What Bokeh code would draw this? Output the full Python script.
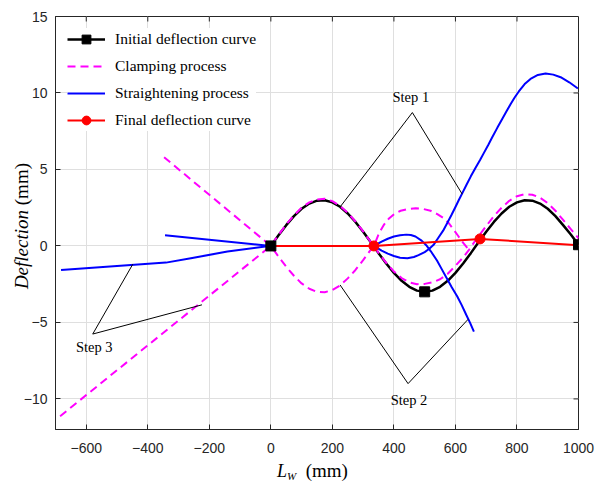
from bokeh.plotting import figure
from bokeh.models import Range1d, FixedTicker, Legend, LegendItem, Label, Div
from bokeh.layouts import row, column
from bokeh.embed import file_html
from bokeh.resources import INLINE

# ---------------- data ----------------
init_x = [0, 25, 50, 75, 100, 125, 150, 175, 200, 225, 250, 275, 300, 325, 350, 375, 400,
          425, 450, 475, 500, 525, 550, 575, 600, 625, 650, 675, 700, 725, 750, 775, 800,
          825, 850, 875, 900, 925, 950, 975, 1000]
init_y = [0, 0.70, 1.36, 1.95, 2.43, 2.77, 2.96, 2.99, 2.85, 2.56, 2.12, 1.57, 0.93, 0.24,
          -0.47, -1.15, -1.76, -2.28, -2.67, -2.92, -3.00, -2.92, -2.67, -2.28, -1.76, -1.15,
          -0.47, 0.24, 0.93, 1.57, 2.12, 2.56, 2.85, 2.99, 2.96, 2.77, 2.43, 1.95, 1.36, 0.75, 0.08]
init_mark_x = [0, 500, 1000]
init_mark_y = [0, -3.0, 0.08]

clamp_a_x = [-685, 0, 25, 50, 75, 100, 125, 150, 175, 200, 225, 250, 275, 300, 325, 335,
             350, 375, 400, 425, 450, 475, 500, 525, 550, 575, 600, 625, 644, 666, 700, 725,
             750, 775, 800, 825, 850, 875, 900, 925, 950, 975, 1000]
clamp_a_y = [-11.13, 0, 0.72, 1.40, 2.00, 2.50, 2.85, 3.04, 3.08, 2.93, 2.62, 2.16, 1.60, 0.95,
             0.25, 0, -0.45, -1.10, -1.67, -2.10, -2.38, -2.50, -2.48, -2.38, -2.18, -1.82,
             -1.30, -0.75, -0.26, 0.39, 1.30, 1.95, 2.50, 2.95, 3.25, 3.38, 3.35, 3.15, 2.80,
             2.30, 1.70, 1.10, 0.50]
clamp_b_x = [-347, 0, 25, 50, 75, 100, 125, 150, 175, 200, 225, 250, 275, 300, 325, 335,
             352, 368, 384, 402, 422, 446, 471, 495, 519, 541, 563, 580, 595, 609, 622, 644]
clamp_b_y = [5.8, 0, -0.70, -1.36, -1.95, -2.45, -2.80, -3.00, -3.03, -2.88, -2.58, -2.12,
             -1.57, -0.93, -0.24, 0, 0.85, 1.40, 1.80, 2.10, 2.30, 2.42, 2.46, 2.42, 2.30,
             2.08, 1.80, 1.45, 1.04, 0.65, 0.28, -0.26]

straight_a_x = [-682, -341, -260, -141, -5, 0, 335, 360, 380, 400, 420, 440, 455, 470, 490,
                505, 520, 540, 555, 570, 588, 606, 620, 635, 648, 660]
straight_a_y = [-1.57, -1.09, -0.80, -0.37, 0, 0, 0, 0.28, 0.47, 0.62, 0.70, 0.74, 0.72,
                0.62, 0.35, 0.05, -0.35, -0.95, -1.50, -2.05, -2.70, -3.30, -3.85, -4.50,
                -5.05, -5.60]
straight_b_x = [-344, 0, 335, 360, 380, 400, 420, 444, 465, 480, 500, 514, 530, 545, 560, 573,
                587, 600, 611, 622, 636, 650, 665, 680, 693, 707, 720, 736, 752, 766, 780,
                793, 806, 825, 844, 868, 893, 918, 942, 970, 998]
straight_b_y = [0.70, 0, 0, -0.30, -0.50, -0.66, -0.77, -0.80, -0.72, -0.60, -0.40, -0.20,
                0.10, 0.55, 1.00, 1.48, 2.02, 2.55, 3.00, 3.44, 4.00, 4.55, 5.10, 5.62, 6.10,
                6.62, 7.12, 7.72, 8.30, 8.80, 9.30, 9.72, 10.10, 10.58, 10.92, 11.18, 11.27,
                11.20, 11.03, 10.70, 10.29]

final_x = [0, 335, 680, 1000]
final_y = [0, 0, 0.46, 0.05]
final_mark_x = [335, 680]
final_mark_y = [0, 0.46]

step1_x = [227, 460, 622]
step1_y = [2.6, 8.72, 3.39]
step2_x = [225, 446, 641]
step2_y = [-2.55, -9.0, -4.8]
step3_x = [-449, -579, -224]
step3_y = [-1.2, -5.76, -3.85]
step_labels = ["Step 1", "Step 2", "Step 3"]
step_label_x = [455, 449, -574]
step_label_y = [9.75, -10.1, -6.6]

legend_labels = ["Initial deflection curve", "Clamping process",
                 "Straightening process", "Final deflection curve"]
x_ticks = [-600, -400, -200, 0, 200, 400, 600, 800, 1000]
y_ticks = [-10, -5, 0, 5, 10, 15]

# ---------------- layout ----------------
W, H = 608, 481
YDIV_W = 20            # strip on the left for the y title
XDIV_H = 20            # strip at the bottom for the x title
PW, PH = W - YDIV_W, H - XDIV_H
BL, BR, BT, BB = 34, 30, 16, 32
XMIN, XMAX, YMIN, YMAX = -700, 1000, -12, 15
FW, FH = PW - BL - BR, PH - BT - BB
TICK = 5

p = figure(width=PW, height=PH, output_backend="svg", toolbar_location=None,
           x_range=Range1d(XMIN, XMAX), y_range=Range1d(YMIN, YMAX),
           min_border_left=BL, min_border_right=BR, min_border_top=BT, min_border_bottom=BB)
p.background_fill_color = "white"
p.border_fill_color = "white"
p.border_fill_alpha = 0.0
p.outline_line_color = "#262626"
p.outline_line_width = 1

AX = "#262626"
for ax in (p.xaxis[0], p.yaxis[0]):
    ax.axis_line_color = AX
    ax.major_tick_line_color = AX
    ax.major_tick_in = TICK
    ax.major_tick_out = 0
    ax.minor_tick_line_color = None
    ax.major_label_text_font = "Liberation Sans"
    ax.major_label_text_font_size = "14px"
    ax.major_label_text_color = AX
p.xaxis[0].ticker = FixedTicker(ticks=x_ticks)
p.yaxis[0].ticker = FixedTicker(ticks=y_ticks)
p.xaxis[0].major_label_standoff = 13
p.yaxis[0].major_label_standoff = 8

p.xgrid.ticker = FixedTicker(ticks=x_ticks)
p.ygrid.ticker = FixedTicker(ticks=y_ticks)
for g in (p.xgrid[0], p.ygrid[0]):
    g.grid_line_color = "#dfdfdf"
    g.grid_line_width = 1

# ticks on the top and right edges of the box
ty = TICK / FH * (YMAX - YMIN)
tx = TICK / FW * (XMAX - XMIN)
top_t = [t for t in x_ticks if XMIN < t < XMAX]
right_t = [t for t in y_ticks if YMIN < t < YMAX]
p.segment(x0=top_t, y0=[YMAX] * len(top_t), x1=top_t, y1=[YMAX - ty] * len(top_t),
          line_color=AX, line_width=1)
p.segment(x0=[XMAX] * len(right_t), y0=right_t, x1=[XMAX - tx] * len(right_t), y1=right_t,
          line_color=AX, line_width=1)

# ---------------- curves ----------------
r_init = p.line(init_x, init_y, line_color="black", line_width=2.5)
r_clamp = p.line(clamp_a_x, clamp_a_y, line_color="#ff00ff", line_width=2, line_dash="8 5")
p.line(clamp_b_x, clamp_b_y, line_color="#ff00ff", line_width=2, line_dash="8 5")
r_str = p.line(straight_a_x, straight_a_y, line_color="#0000ff", line_width=2)
p.line(straight_b_x, straight_b_y, line_color="#0000ff", line_width=2)
r_fin = p.line(final_x, final_y, line_color="#ff0000", line_width=2)
r_fin_m = p.scatter(final_mark_x, final_mark_y, marker="circle", size=10,
                    fill_color="#ff0000", line_color="#ff0000")
r_init_m = p.scatter(init_mark_x, init_mark_y, marker="square", size=10,
                     fill_color="black", line_color="black")

for sx, sy in ((step1_x, step1_y), (step2_x, step2_y), (step3_x, step3_y)):
    p.line(sx, sy, line_color="black", line_width=1)

for t, tx_, ty_ in zip(step_labels, step_label_x, step_label_y):
    p.add_layout(Label(x=tx_, y=ty_, text=t, text_align="center", text_baseline="middle",
                       text_font="Liberation Serif", text_font_size="14.5px", text_color="black"))

# ---------------- legend ----------------
legend = Legend(items=[
    LegendItem(label=legend_labels[0], renderers=[r_init, r_init_m]),
    LegendItem(label=legend_labels[1], renderers=[r_clamp]),
    LegendItem(label=legend_labels[2], renderers=[r_str]),
    LegendItem(label=legend_labels[3], renderers=[r_fin, r_fin_m]),
], location="top_left")
legend.margin = 12
legend.padding = 9
legend.spacing = 5
legend.label_height = 22
legend.glyph_height = 22
legend.glyph_width = 38
legend.label_standoff = 10
legend.label_text_font = "Liberation Serif"
legend.label_text_font_size = "15.5px"
legend.label_text_color = "black"
legend.border_line_color = None
legend.background_fill_color = "white"
legend.background_fill_alpha = 1.0
p.add_layout(legend)

# ---------------- axis titles (mixed italic / upright) as HTML ----------------
SERIF = "'Liberation Serif', 'Times New Roman', serif"
Y_TITLE_CENTER = 226   # vertical centre of the y title, px from the top
ydiv = Div(width=YDIV_W, height=H, margin=0, styles={"overflow": "visible"},
           text=(
               f'<div style="width:{YDIV_W}px; height:{2 * Y_TITLE_CENTER}px; display:flex; '
               f'align-items:center; justify-content:center; overflow:visible;">'
               f'<div style="writing-mode:vertical-rl; transform:rotate(180deg); white-space:nowrap; '
               f'position:relative; left:12px; font-family:{SERIF}; color:black; line-height:19px;">'
               f'<span style="font-style:italic; font-size:19px;">Deflection</span>'
               f'<span style="font-size:19px;">&nbsp;(mm)</span></div></div>'))
xdiv = Div(width=PW, height=XDIV_H, margin=0, styles={"overflow": "visible"},
           text=(
               f'<div style="width:{PW}px; height:{XDIV_H}px; position:relative; '
               f'font-family:{SERIF}; color:black; white-space:nowrap; line-height:20px;">'
               f'<div style="position:absolute; left:{277 - YDIV_W}px; top:0px;">'
               f'<span style="font-style:italic; font-size:18px;">L</span>'
               f'<span style="font-style:italic; font-size:11px; position:relative; top:3px;">W</span>'
               f'<span style="font-size:19px;">&nbsp;&nbsp;(mm)</span></div></div>'))

layout = row(ydiv, column(p, xdiv, spacing=0), spacing=0)

open("out.html", "w").write(file_html(layout, INLINE))
